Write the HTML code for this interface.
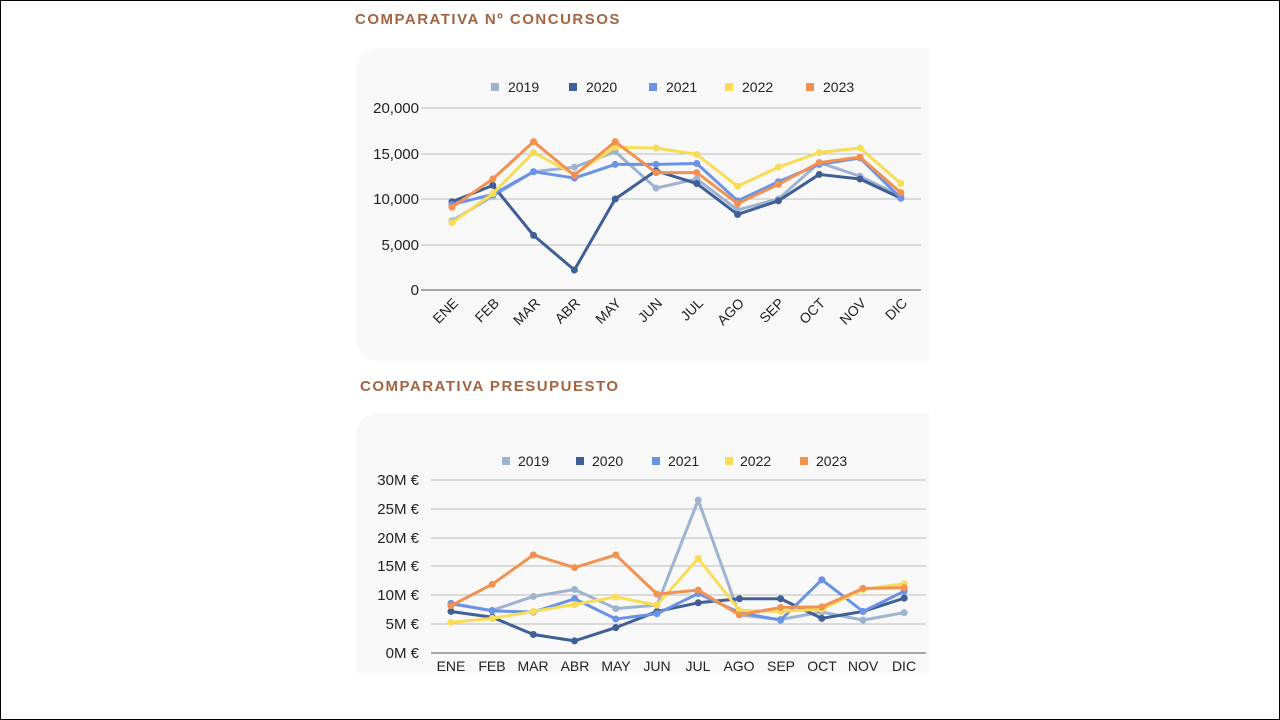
<!DOCTYPE html>
<html><head><meta charset="utf-8"><style>
html,body{margin:0;padding:0;background:#fff}
#root{position:relative;width:1278px;height:718px;border:1px solid #000;overflow:hidden;background:#fff;font-family:"Liberation Sans",sans-serif}
.title{position:absolute;color:#a5633f;font-weight:900;font-size:15px;letter-spacing:1.5px}
.panel{position:absolute;background:#f8f8f8;border-radius:22px}
svg{position:absolute;left:0;top:0}
text{font-family:"Liberation Sans",sans-serif;fill:#222}
</style></head><body><div id="root">
<div class="title" style="left:354px;top:10px">COMPARATIVA Nº CONCURSOS</div>
<div class="title" style="left:359px;top:377px">COMPARATIVA PRESUPUESTO</div>
<div class="panel" style="left:355px;top:47px;width:590px;height:313px;border-radius:22px 0 0 22px"></div>
<div class="panel" style="left:355px;top:412px;width:590px;height:260px;border-radius:22px 0 0 0"></div>
<div style="position:absolute;left:928px;top:40px;width:20px;height:640px;background:#fff"></div>
<svg width="1280" height="720" id="s" font-size="13">
<g id="g1">
<line x1="420" x2="920" y1="107" y2="107" stroke="#bbb"/>
<line x1="420" x2="920" y1="153" y2="153" stroke="#bbb"/>
<line x1="420" x2="920" y1="198" y2="198" stroke="#bbb"/>
<line x1="420" x2="920" y1="244" y2="244" stroke="#bbb"/>
<line x1="420" x2="920" y1="289" y2="289" stroke="#555"/>
<text x="418" y="112" text-anchor="end" font-size="15">20,000</text>
<text x="418" y="158" text-anchor="end" font-size="15">15,000</text>
<text x="418" y="203" text-anchor="end" font-size="15">10,000</text>
<text x="418" y="249" text-anchor="end" font-size="15">5,000</text>
<text x="418" y="294" text-anchor="end" font-size="15">0</text>
<g font-size="14">
<text transform="translate(458,303) rotate(-45)" text-anchor="end">ENE</text>
<text transform="translate(499,303) rotate(-45)" text-anchor="end">FEB</text>
<text transform="translate(540,303) rotate(-45)" text-anchor="end">MAR</text>
<text transform="translate(580,303) rotate(-45)" text-anchor="end">ABR</text>
<text transform="translate(621,303) rotate(-45)" text-anchor="end">MAY</text>
<text transform="translate(662,303) rotate(-45)" text-anchor="end">JUN</text>
<text transform="translate(703,303) rotate(-45)" text-anchor="end">JUL</text>
<text transform="translate(744,303) rotate(-45)" text-anchor="end">AGO</text>
<text transform="translate(784,303) rotate(-45)" text-anchor="end">SEP</text>
<text transform="translate(825,303) rotate(-45)" text-anchor="end">OCT</text>
<text transform="translate(866,303) rotate(-45)" text-anchor="end">NOV</text>
<text transform="translate(907,303) rotate(-45)" text-anchor="end">DIC</text>
</g>
<rect x="490" y="82" width="8" height="8" fill="#9eb3cf"/><text x="507" y="91" font-size="14">2019</text>
<rect x="568" y="82" width="8" height="8" fill="#3f5f97"/><text x="585" y="91" font-size="14">2020</text>
<rect x="648" y="82" width="8" height="8" fill="#6a93e8"/><text x="665" y="91" font-size="14">2021</text>
<rect x="724" y="82" width="8" height="8" fill="#f8dc55"/><text x="741" y="91" font-size="14">2022</text>
<rect x="805" y="82" width="8" height="8" fill="#f29150"/><text x="822" y="91" font-size="14">2023</text>
</g>
<g id="g2">
<line x1="430" x2="925" y1="479" y2="479" stroke="#bbb"/>
<line x1="430" x2="925" y1="508" y2="508" stroke="#bbb"/>
<line x1="430" x2="925" y1="537" y2="537" stroke="#bbb"/>
<line x1="430" x2="925" y1="565" y2="565" stroke="#bbb"/>
<line x1="430" x2="925" y1="594" y2="594" stroke="#bbb"/>
<line x1="430" x2="925" y1="623" y2="623" stroke="#bbb"/>
<line x1="430" x2="925" y1="652" y2="652" stroke="#555"/>
<text x="418" y="484" text-anchor="end" font-size="15">30M €</text>
<text x="418" y="513" text-anchor="end" font-size="15">25M €</text>
<text x="418" y="542" text-anchor="end" font-size="15">20M €</text>
<text x="418" y="570" text-anchor="end" font-size="15">15M €</text>
<text x="418" y="599" text-anchor="end" font-size="15">10M €</text>
<text x="418" y="628" text-anchor="end" font-size="15">5M €</text>
<text x="418" y="657" text-anchor="end" font-size="15">0M €</text>
<g font-size="14" text-anchor="middle">
<text x="450" y="670">ENE</text><text x="491" y="670">FEB</text><text x="532" y="670">MAR</text>
<text x="574" y="670">ABR</text><text x="615" y="670">MAY</text><text x="656" y="670">JUN</text>
<text x="697" y="670">JUL</text><text x="738" y="670">AGO</text><text x="780" y="670">SEP</text>
<text x="821" y="670">OCT</text><text x="862" y="670">NOV</text><text x="903" y="670">DIC</text>
</g>
<rect x="501" y="456" width="8" height="8" fill="#9eb3cf"/><text x="517" y="465" font-size="14">2019</text>
<rect x="575" y="456" width="8" height="8" fill="#3f5f97"/><text x="591" y="465" font-size="14">2020</text>
<rect x="651" y="456" width="8" height="8" fill="#6a93e8"/><text x="667" y="465" font-size="14">2021</text>
<rect x="724" y="456" width="8" height="8" fill="#f8dc55"/><text x="739" y="465" font-size="14">2022</text>
<rect x="799" y="456" width="8" height="8" fill="#f29150"/><text x="815" y="465" font-size="14">2023</text>
</g>
</svg>
<script>
var cols=["#9eb3cf","#3f5f97","#6a93e8","#f8dc55","#f29150"];
var d1=[[7.6,10.3,13.0,13.5,15.2,11.2,12.2,8.8,10.0,14.0,12.5,10.3],
[9.7,11.5,6.0,2.2,10.0,13.1,11.7,8.3,9.8,12.7,12.2,10.1],
[9.4,10.5,13.0,12.3,13.8,13.8,13.9,9.8,11.9,13.8,14.5,10.1],
[7.4,10.6,15.1,12.7,15.7,15.6,14.9,11.4,13.5,15.1,15.6,11.7],
[9.1,12.2,16.3,12.6,16.3,12.9,12.9,9.5,11.6,14.0,14.6,10.7]];
var d2=[[8.5,7.4,9.8,11.0,7.7,8.3,26.5,6.6,5.8,7.1,5.7,7.0],
[7.2,6.2,3.2,2.1,4.4,7.2,8.7,9.4,9.4,6.0,7.2,9.5],
[8.6,7.3,7.1,9.4,5.9,6.8,10.3,7.0,5.7,12.7,7.2,10.7],
[5.3,6.0,7.2,8.4,9.7,8.3,16.4,7.4,7.2,7.6,11.0,12.0],
[8.2,11.9,17.0,14.8,17.0,10.2,10.9,6.6,7.9,8.0,11.2,11.3]];
var NS="http://www.w3.org/2000/svg";
function draw(g,data,x0,dx,y0,sc){
 data.forEach(function(s,k){
  var pts=s.map(function(v,i){return [x0+i*dx,y0-v*sc];});
  var p=document.createElementNS(NS,"polyline");
  p.setAttribute("points",pts.map(function(q){return q.join(",")}).join(" "));
  p.setAttribute("fill","none");p.setAttribute("stroke",cols[k]);p.setAttribute("stroke-width","3");
  p.setAttribute("stroke-linejoin","round");g.appendChild(p);
  pts.forEach(function(q){var c=document.createElementNS(NS,"circle");c.setAttribute("cx",q[0]);c.setAttribute("cy",q[1]);c.setAttribute("r","3.5");c.setAttribute("fill",cols[k]);g.appendChild(c);});
 });
}
draw(document.getElementById("g1"),d1,451,40.8,289,9.1);
draw(document.getElementById("g2"),d2,450,41.2,652,5.77);
</script>
</div></body></html>
